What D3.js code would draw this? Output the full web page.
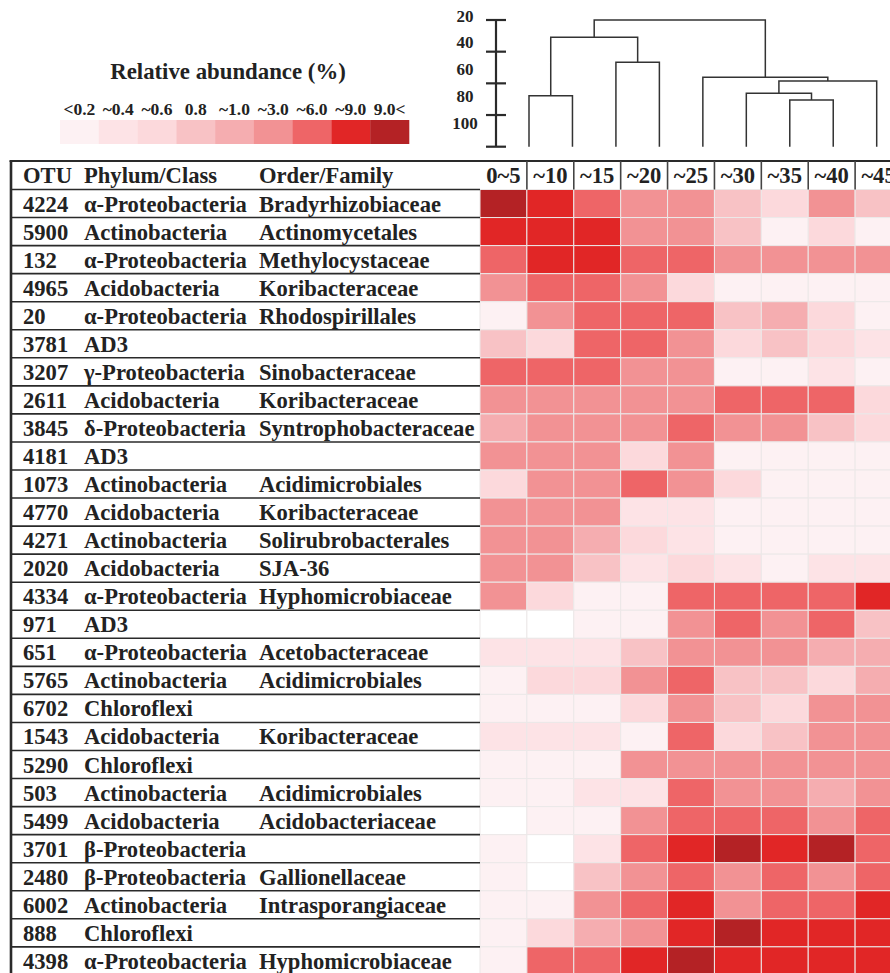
<!DOCTYPE html>
<html>
<head>
<meta charset="utf-8">
<script src="https://cdn.jsdelivr.net/npm/d3@7"></script>
<style>
html,body{margin:0;padding:0;background:#fff;}
svg{display:block;}
text{font-family:"Liberation Serif","Times New Roman",serif;font-weight:bold;fill:#222;}
</style>
</head>
<body>
<svg id="chart" width="890" height="973"></svg>
<script>
// ---------------- data ----------------
const depths = ["0~5","~10","~15","~20","~25","~30","~35","~40","~45"];
const otus = ["4224","5900","132","4965","20","3781","3207","2611","3845","4181","1073","4770","4271","2020","4334","971","651","5765","6702","1543","5290","503","5499","3701","2480","6002","888","4398"];
const phyla = ["α-Proteobacteria","Actinobacteria","α-Proteobacteria","Acidobacteria","α-Proteobacteria","AD3","γ-Proteobacteria","Acidobacteria","δ-Proteobacteria","AD3","Actinobacteria","Acidobacteria","Actinobacteria","Acidobacteria","α-Proteobacteria","AD3","α-Proteobacteria","Actinobacteria","Chloroflexi","Acidobacteria","Chloroflexi","Actinobacteria","Acidobacteria","β-Proteobacteria","β-Proteobacteria","Actinobacteria","Chloroflexi","α-Proteobacteria"];
const orders = ["Bradyrhizobiaceae","Actinomycetales","Methylocystaceae","Koribacteraceae","Rhodospirillales","","Sinobacteraceae","Koribacteraceae","Syntrophobacteraceae","","Acidimicrobiales","Koribacteraceae","Solirubrobacterales","SJA-36","Hyphomicrobiaceae","","Acetobacteraceae","Acidimicrobiales","","Koribacteraceae","","Acidimicrobiales","Acidobacteriaceae","","Gallionellaceae","Intrasporangiaceae","","Hyphomicrobiaceae"];
// relative abundance (%) per OTU across depths
const abundance = [
  [10.5,7.5,4.5,2,2,0.7,0.5,2,0.7],
  [7.5,7.5,7.5,2,2,0.7,0.1,0.5,0.1],
  [4.5,7.5,7.5,4.5,4.5,2,2,2,2],
  [2,4.5,4.5,2,0.5,0.1,0.1,0.1,0.1],
  [0.1,2,4.5,4.5,4.5,0.7,0.9,0.5,0.1],
  [0.7,0.5,4.5,4.5,2,0.5,0.7,0.5,0.3],
  [4.5,4.5,4.5,2,2,0.1,0.1,0.3,0.1],
  [2,2,2,2,2,4.5,4.5,4.5,0.5],
  [0.9,2,2,2,4.5,2,2,0.7,0.5],
  [2,2,2,0.5,2,0.1,0.1,0.1,0.1],
  [0.5,2,2,4.5,2,0.5,0.1,0.1,0.1],
  [2,2,2,0.3,0.3,0.1,0.1,0.1,0.1],
  [2,2,0.9,0.5,0.3,0.1,0.1,0.1,0.1],
  [2,2,0.7,0.3,0.5,0.3,0.1,0.3,0.3],
  [2,0.5,0.1,0.1,4.5,4.5,4.5,4.5,7.5],
  [0,0,0.1,0.1,2,4.5,2,4.5,0.7],
  [0.3,0.3,0.3,0.7,2,2,2,0.9,0.9],
  [0.1,0.5,0.5,2,4.5,0.7,0.7,0.5,0.9],
  [0.1,0.1,0.1,0.5,2,0.7,0.5,2,2],
  [0.3,0.3,0.3,0.1,4.5,0.5,0.7,2,2],
  [0.1,0.1,0.1,2,2,2,2,2,2],
  [0.1,0.1,0.3,0.3,4.5,2,2,0.9,2],
  [0,0.1,0.1,2,4.5,4.5,4.5,2,4.5],
  [0.1,0,0.3,4.5,7.5,10.5,7.5,10.5,4.5],
  [0.1,0,0.7,2,4.5,2,4.5,2,4.5],
  [0.1,0.1,2,4.5,7.5,2,4.5,4.5,7.5],
  [0.1,0.5,0.9,2,7.5,10.5,7.5,7.5,7.5],
  [0.1,4.5,4.5,7.5,10.5,7.5,7.5,7.5,7.5]
];
const legendLabels = ["<0.2","~0.4","~0.6","0.8","~1.0","~3.0","~6.0","~9.0","9.0<"];
const legendBreaks = [0.2,0.4,0.6,0.8,1.0,3.0,6.0,9.0];
const legendColors = ["#fdf1f3","#fde3e6","#fcd9dc","#f8c2c5","#f5adb0","#f29294","#ee6567","#e12626","#b42225"];
const simTicks = [20,40,60,80,100];
// similarity dendrogram of depths (merge level %)
const dendro = {h:20, children:[
  {h:30.9, children:[
    {h:67.8, children:[{name:"0~5"},{name:"~10"}]},
    {h:46.7, children:[{name:"~15"},{name:"~20"}]}
  ]},
  {h:56.2, children:[
    {name:"~25"},
    {h:58.5, children:[
      {h:66.3, children:[{name:"~30"},{h:70.5, children:[{name:"~35"},{name:"~40"}]}]},
      {name:"~45"}
    ]}
  ]}
]};

// ---------------- drawing ----------------
const svg = d3.select("#chart");
const ink = "#2a2a2a";

// Legend
svg.append("text").attr("x",228).attr("y",79).attr("text-anchor","middle")
  .style("font-size","22.8px").text("Relative abundance (%)");
const lx = d3.scaleBand().domain(legendLabels).range([60,409]);
const color = d3.scaleThreshold().domain(legendBreaks).range(legendColors);
svg.append("g").selectAll("rect").data(legendLabels).join("rect")
  .attr("x",d=>lx(d)).attr("y",120).attr("width",lx.bandwidth()+0.3).attr("height",24)
  .attr("fill",(d,i)=>legendColors[i]);
svg.append("g").selectAll("text").data(legendLabels).join("text")
  .attr("x",d=>lx(d)+lx.bandwidth()/2).attr("y",115).attr("text-anchor","middle")
  .style("font-size","17.5px").text(d=>d);

// Dendrogram
const hy = d3.scaleLinear().domain([20,100]).range([20,146.7]);
const labelY = d3.scaleLinear().domain([20,100]).range([21.5,128.5]);
const axisX = 496;
const ax = svg.append("g");
ax.append("line").attr("x1",axisX).attr("x2",axisX).attr("y1",hy(20)).attr("y2",hy(100))
  .attr("stroke",ink).attr("stroke-width",2.2);
ax.selectAll("line.t").data(simTicks).join("line").attr("class","t")
  .attr("x1",axisX-10).attr("x2",axisX+10).attr("y1",d=>hy(d)).attr("y2",d=>hy(d))
  .attr("stroke",ink).attr("stroke-width",2.2);
ax.selectAll("text").data(simTicks).join("text")
  .attr("x",465).attr("y",d=>labelY(d)).attr("text-anchor","middle")
  .style("font-size","17px").text(d=>d);

const leafX = d3.scalePoint().domain(depths).range([529,876.7]);
const root = d3.hierarchy(dendro);
root.eachAfter(n=>{
  if(!n.children){ n.px = leafX(n.data.name); n.py = hy(100); }
  else { n.px = (n.children[0].px + n.children[n.children.length-1].px)/2; n.py = hy(n.data.h); }
});
const dg = svg.append("g").attr("fill","none").attr("stroke","#333").attr("stroke-width",1.5);
root.descendants().filter(n=>n.children).forEach(n=>{
  const c0 = n.children[0], c1 = n.children[n.children.length-1];
  dg.append("path").attr("d",
    `M${c0.px},${c0.py}V${n.py}H${c1.px}V${c1.py}`);
});

// Table
const colX = d3.scaleBand().domain(depths).range([480,902]);
const rowY = d3.scaleBand().domain(otus).range([189.5,189.5+28.05*otus.length]);
const headerTop = 161, headerBottom = rowY.range()[0];

// heatmap cells
const cells = [];
otus.forEach((o,i)=>depths.forEach((d,j)=>cells.push({o,d,v:abundance[i][j]})));
svg.append("g").selectAll("rect").data(cells).join("rect")
  .attr("x",c=>colX(c.d)).attr("y",c=>rowY(c.o))
  .attr("width",colX.bandwidth()).attr("height",rowY.bandwidth())
  .attr("fill",c=>c.v===0?"#ffffff":color(c.v))
  .attr("stroke","#ece8e8").attr("stroke-width",1);

// row lines in left part
const lines = svg.append("g").attr("stroke",ink);
lines.selectAll("line").data(otus.slice(1)).join("line")
  .attr("x1",10).attr("x2",480).attr("y1",d=>rowY(d)).attr("y2",d=>rowY(d))
  .attr("stroke-width",1.6);
lines.append("line").attr("x1",10).attr("x2",480).attr("y1",headerBottom).attr("y2",headerBottom).attr("stroke-width",1.6);
// top border
svg.append("line").attr("x1",9.5).attr("x2",890).attr("y1",headerTop).attr("y2",headerTop)
  .attr("stroke",ink).attr("stroke-width",2.2);
// left border
svg.append("line").attr("x1",11).attr("x2",11).attr("y1",headerTop).attr("y2",973)
  .attr("stroke",ink).attr("stroke-width",2.6);
// header separators
svg.append("g").selectAll("line").data(depths.slice(1)).join("line")
  .attr("x1",d=>colX(d)).attr("x2",d=>colX(d)).attr("y1",headerTop).attr("y2",headerBottom)
  .attr("stroke","#444").attr("stroke-width",1.6);

// header text
const hdr = svg.append("g").style("font-size","22.6px");
hdr.append("text").attr("x",23).attr("y",headerTop+22).text("OTU");
hdr.append("text").attr("x",84).attr("y",headerTop+22).text("Phylum/Class");
hdr.append("text").attr("x",259).attr("y",headerTop+22).text("Order/Family");
hdr.selectAll("text.d").data(depths).join("text").attr("class","d")
  .attr("x",d=>colX(d)+colX.bandwidth()/2).attr("y",headerTop+22).attr("text-anchor","middle").text(d=>d);

// row text
const rows = svg.append("g").style("font-size","22.6px").selectAll("g").data(otus).join("g")
  .attr("transform",d=>`translate(0,${rowY(d)+22})`);
rows.append("text").attr("x",23).text(d=>d);
rows.append("text").attr("x",84).text((d,i)=>phyla[i]);
rows.append("text").attr("x",259).text((d,i)=>orders[i]);
</script>
</body>
</html>
